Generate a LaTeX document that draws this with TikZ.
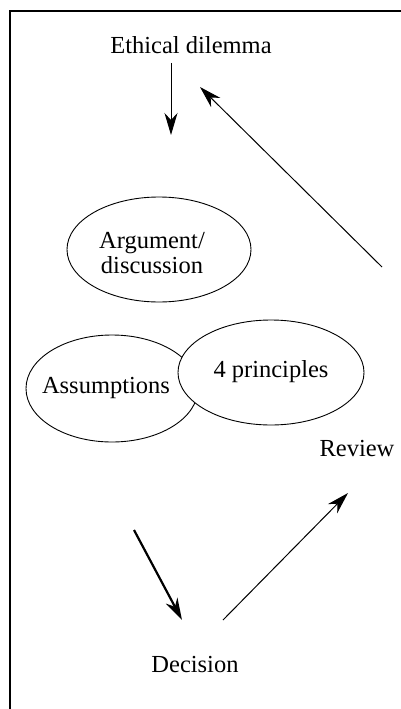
\documentclass[tikz,border=0pt]{standalone}
\usepackage{fontspec}
\setmainfont{Liberation Serif}
\usetikzlibrary{arrows.meta,shapes.geometric}
\begin{document}
\begin{tikzpicture}[x=1pt,y=-1pt,
  lbl/.style={anchor=base,inner sep=0pt,font=\fontsize{24.5}{26}\selectfont},
  oval/.style={draw,ellipse,fill=white,line width=0.9pt,inner sep=0pt},
  arr/.style={-{Stealth[length=22pt,width=13pt,inset=7pt]},line width=1pt},
  thickarr/.style={-{Stealth[length=22pt,width=13pt,inset=7pt]},line width=2.2pt}]
\useasboundingbox (0,0) rectangle (401,709);
\draw[line width=2pt] (9.5,709) -- (9.5,11.5) -- (401,11.5);
% nodes
\node[lbl] (ethical) at (191,53) {Ethical dilemma};
\node[oval,minimum width=184pt,minimum height=105pt] (argoval) at (159,249.5) {};
\node[lbl,align=center] (arg) at (152,273) {Argument/\\[-1pt]discussion};
\node[oval,minimum width=172pt,minimum height=107pt] (assoval) at (112,388.5) {};
\node[oval,minimum width=186pt,minimum height=105pt] (prinoval) at (271,372.5) {};
\node[lbl] (ass) at (106,393) {Assumptions};
\node[lbl] (prin) at (271,377) {4 principles};
\node[lbl] (review) at (357,456) {Review};
\node[lbl] (decision) at (195,672) {Decision};
% arrow end points
\coordinate (a1) at (171,63);
\coordinate (a2) at (171,135);
\coordinate (b1) at (382,267);
\coordinate (b2) at (200,87);
\coordinate (c1) at (134,530);
\coordinate (c2) at (182,620);
\coordinate (d1) at (223,620);
\coordinate (d2) at (348,493);
\draw[arr] (a1) -- (a2);
\draw[arr] (b1) -- (b2);
\draw[thickarr] (c1) -- (c2);
\draw[arr] (d1) -- (d2);
\end{tikzpicture}
\end{document}
